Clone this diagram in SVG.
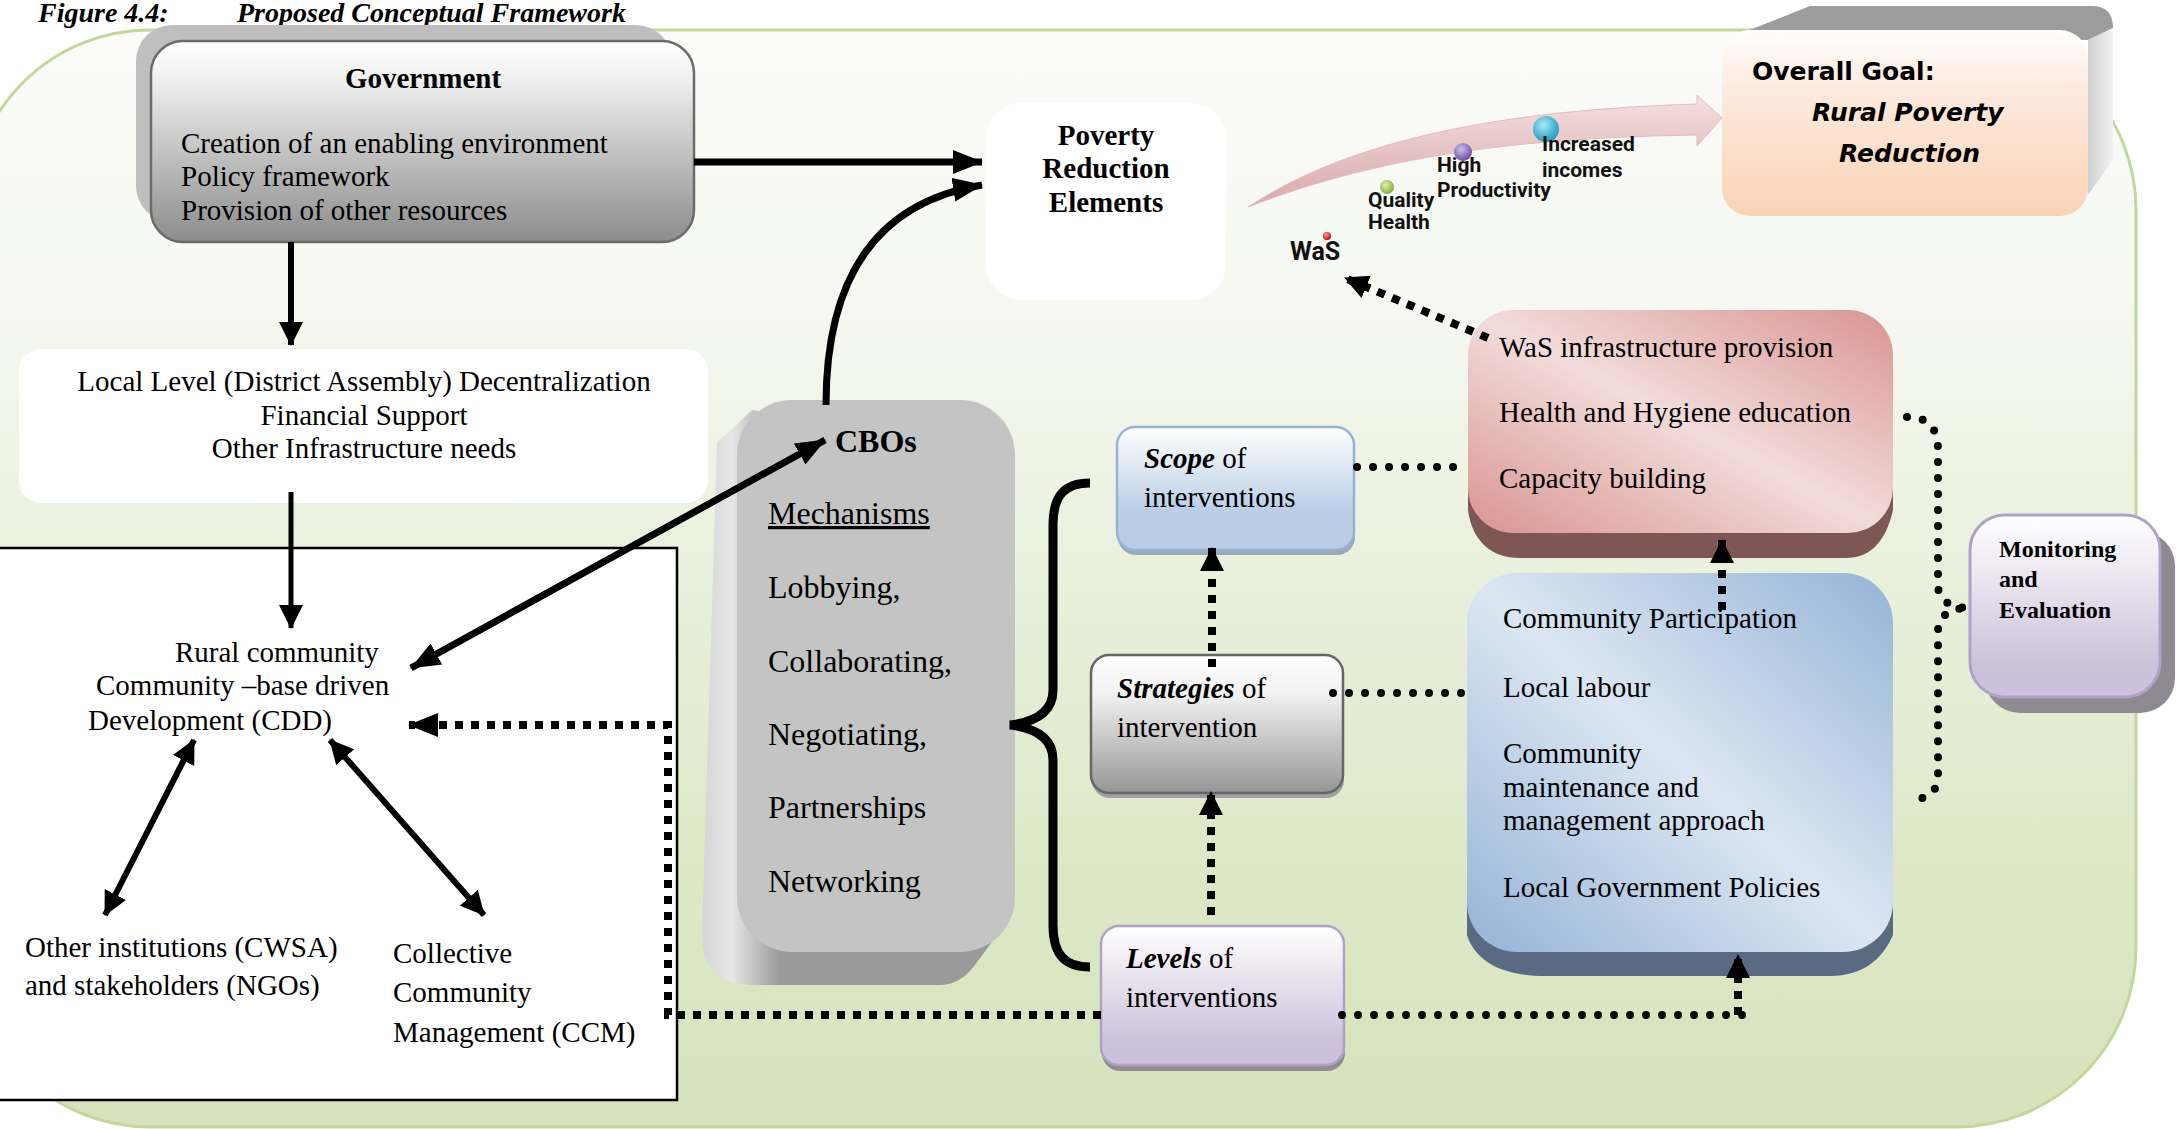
<svg xmlns="http://www.w3.org/2000/svg" width="2179" height="1129" viewBox="0 0 2179 1129">
  <style>
    .t { font-family: "Liberation Serif", "Times New Roman", serif; font-size: 29px; fill: #000; }
    .b { font-weight: bold; }
    .bi { font-weight: bold; font-style: italic; }
    .c { text-anchor: middle; }
    .cbo { font-size: 32px; }
    .me { font-size: 24px; font-weight: bold; }
    .goal { font-family: "DejaVu Sans", sans-serif; font-weight: bold; font-size: 25px; fill: #000; }
    .lab { font-family: Roboto, "Liberation Sans", sans-serif; font-weight: bold; font-size: 21px; fill: #111; }
    .solid { fill: none; stroke: #000; stroke-width: 6; }
    .w5 { stroke-width: 5; }
    .w7 { stroke-width: 7; }
    .w9 { stroke-width: 9; }
    .sq { fill: none; stroke: #000; stroke-width: 8; stroke-dasharray: 8 8; }
    .dot { fill: none; stroke: #000; stroke-width: 8; stroke-dasharray: 0 16; stroke-linecap: round; }
  </style>
  <defs>
    <linearGradient id="bg" x1="0" y1="0" x2="0" y2="1">
      <stop offset="0" stop-color="#fbfcfa"/>
      <stop offset="0.25" stop-color="#f6f8f1"/>
      <stop offset="0.5" stop-color="#e9f0dc"/>
      <stop offset="0.75" stop-color="#dee8c8"/>
      <stop offset="1" stop-color="#d6e3bc"/>
    </linearGradient>
    <linearGradient id="gGov" x1="0" y1="0" x2="0" y2="1">
      <stop offset="0" stop-color="#ffffff"/>
      <stop offset="0.15" stop-color="#f4f4f4"/>
      <stop offset="1" stop-color="#8c8c8c"/>
    </linearGradient>
    <linearGradient id="gStrat" x1="0" y1="0" x2="0" y2="1">
      <stop offset="0" stop-color="#ffffff"/>
      <stop offset="0.3" stop-color="#f0f0f0"/>
      <stop offset="1" stop-color="#959595"/>
    </linearGradient>
    <linearGradient id="gScope" x1="0" y1="0" x2="0" y2="1">
      <stop offset="0" stop-color="#ffffff"/>
      <stop offset="0.7" stop-color="#b9cde5"/>
      <stop offset="1" stop-color="#b9cde5"/>
    </linearGradient>
    <linearGradient id="gLilac" x1="0" y1="0" x2="0" y2="1">
      <stop offset="0" stop-color="#ffffff"/>
      <stop offset="0.85" stop-color="#ccc0da"/>
      <stop offset="1" stop-color="#ccc0da"/>
    </linearGradient>
    <linearGradient id="gGoal" x1="0" y1="0" x2="0" y2="1">
      <stop offset="0" stop-color="#ffffff"/>
      <stop offset="0.3" stop-color="#fdebe0"/>
      <stop offset="1" stop-color="#fad3b5"/>
    </linearGradient>
    <linearGradient id="gGoalSide" x1="0" y1="0" x2="1" y2="0">
      <stop offset="0" stop-color="#cfcfcf"/>
      <stop offset="1" stop-color="#f2f2f2"/>
    </linearGradient>
    <linearGradient id="gRed" x1="1" y1="0" x2="0" y2="1">
      <stop offset="0" stop-color="#d99492"/>
      <stop offset="0.5" stop-color="#f2dcdb"/>
      <stop offset="1" stop-color="#d99492"/>
    </linearGradient>
    <linearGradient id="gBlue" x1="1" y1="0" x2="0" y2="1">
      <stop offset="0" stop-color="#95b3d7"/>
      <stop offset="0.5" stop-color="#dce6f2"/>
      <stop offset="1" stop-color="#95b3d7"/>
    </linearGradient>
    <linearGradient id="gCboSide" gradientUnits="userSpaceOnUse" x1="700" y1="0" x2="780" y2="0">
      <stop offset="0" stop-color="#d4d4d4"/>
      <stop offset="0.4" stop-color="#e6e6e6"/>
      <stop offset="1" stop-color="#9a9a9a"/>
    </linearGradient>
    <linearGradient id="gArrow" x1="0" y1="0" x2="0" y2="1">
      <stop offset="0" stop-color="#f4e0e0"/>
      <stop offset="1" stop-color="#d9a7a9"/>
    </linearGradient>
    <radialGradient id="bRed" cx="0.4" cy="0.35" r="0.7">
      <stop offset="0" stop-color="#ff9a9a"/>
      <stop offset="1" stop-color="#c00000"/>
    </radialGradient>
    <radialGradient id="bGreen" cx="0.4" cy="0.35" r="0.7">
      <stop offset="0" stop-color="#e0f0a8"/>
      <stop offset="1" stop-color="#78a832"/>
    </radialGradient>
    <radialGradient id="bPurple" cx="0.4" cy="0.35" r="0.7">
      <stop offset="0" stop-color="#cfc0ea"/>
      <stop offset="1" stop-color="#6446a0"/>
    </radialGradient>
    <radialGradient id="bCyan" cx="0.4" cy="0.35" r="0.7">
      <stop offset="0" stop-color="#a8e8f8"/>
      <stop offset="1" stop-color="#1896bc"/>
    </radialGradient>
    <marker id="ah" viewBox="0 0 30 24" refX="29" refY="12" markerWidth="30" markerHeight="24" markerUnits="userSpaceOnUse" orient="auto-start-reverse">
      <path d="M0,0 L30,12 L0,24 Z" fill="#000"/>
    </marker>
    <marker id="ahs" viewBox="0 0 24 24" refX="23" refY="12" markerWidth="24" markerHeight="24" markerUnits="userSpaceOnUse" orient="auto-start-reverse">
      <path d="M0,0 L24,12 L0,24 Z" fill="#000"/>
    </marker>
  </defs>

  <!-- page and framework background -->
  <rect x="0" y="0" width="2179" height="1129" fill="#ffffff"/>
  <rect x="-30" y="30" width="2166" height="1097" rx="180" ry="180" fill="url(#bg)" stroke="#c3d69b" stroke-width="3"/>

  <!-- heading -->
  <text class="t bi" x="38" y="22" style="font-size:28px">Figure 4.4:</text>
  <text class="t bi" x="237" y="22" style="font-size:28px">Proposed Conceptual Framework</text>

  <g id="government">
    <rect x="136" y="25" width="536" height="197" rx="36" fill="#bfbfbf"/>
    <rect x="151" y="41" width="543" height="201" rx="32" fill="url(#gGov)" stroke="#6b6b6b" stroke-width="2.5"/>
    <text class="t b c" x="423" y="88">Government</text>
    <text class="t" x="181" y="153">Creation of an enabling environment</text>
    <text class="t" x="181" y="186">Policy framework</text>
    <text class="t" x="181" y="220">Provision of other resources</text>
  </g>

  <g id="local-level">
    <rect x="19" y="349" width="689" height="154" rx="22" fill="#ffffff"/>
    <text class="t c" x="364" y="391">Local Level (District Assembly) Decentralization</text>
    <text class="t c" x="364" y="425">Financial Support</text>
    <text class="t c" x="364" y="458">Other Infrastructure needs</text>
  </g>

  <g id="community-panel">
    <rect x="-5" y="548" width="682" height="552" fill="#ffffff" stroke="#000" stroke-width="2.5"/>
    <g id="rural-community">
      <text class="t" x="175" y="662">Rural community</text>
      <text class="t" x="96" y="695">Community –base driven</text>
      <text class="t" x="88" y="730">Development (CDD)</text>
    </g>
    <g id="other-institutions">
      <text class="t" x="25" y="957">Other institutions (CWSA)</text>
      <text class="t" x="25" y="995">and stakeholders (NGOs)</text>
    </g>
    <g id="ccm">
      <text class="t" x="393" y="963">Collective</text>
      <text class="t" x="393" y="1002">Community</text>
      <text class="t" x="393" y="1042">Management (CCM)</text>
    </g>
  </g>

  <g id="cbos">
    <path d="M752,410 L717,443 L702,933 Q702,985 752,985 L940,985 Q960,985 975,965 L1013,913 L1013,455 Z" fill="url(#gCboSide)"/>
    <rect x="737" y="400" width="278" height="552" rx="55" fill="#c4c4c4"/>
    <text class="t b cbo" x="835" y="452">CBOs</text>
    <text class="t cbo" x="768" y="524" text-decoration="underline">Mechanisms</text>
    <text class="t cbo" x="768" y="598">Lobbying,</text>
    <text class="t cbo" x="768" y="672">Collaborating,</text>
    <text class="t cbo" x="768" y="745">Negotiating,</text>
    <text class="t cbo" x="768" y="818">Partnerships</text>
    <text class="t cbo" x="768" y="892">Networking</text>
  </g>

  <g id="poverty-elements">
    <rect x="986" y="103" width="240" height="197" rx="35" fill="#ffffff"/>
    <text class="t b c" x="1106" y="145">Poverty</text>
    <text class="t b c" x="1106" y="178">Reduction</text>
    <text class="t b c" x="1106" y="212">Elements</text>
  </g>

  <g id="outcome-arrow">
    <path d="M1248,207 C1350,140 1500,110 1697,104 L1697,95 L1722,118 L1697,146 L1697,135 C1500,138 1370,160 1248,207 Z" fill="url(#gArrow)" stroke="#e2bcbd" stroke-width="1"/>
    <circle cx="1327" cy="236" r="4" fill="url(#bRed)"/>
    <text class="lab" x="1290" y="260" style="font-size:25px">WaS</text>
    <circle cx="1387" cy="187" r="7" fill="url(#bGreen)"/>
    <text class="lab" x="1368" y="207">Quality</text>
    <text class="lab" x="1368" y="229">Health</text>
    <circle cx="1463" cy="152" r="9" fill="url(#bPurple)"/>
    <text class="lab" x="1437" y="172">High</text>
    <text class="lab" x="1437" y="197">Productivity</text>
    <circle cx="1546" cy="129" r="13" fill="url(#bCyan)"/>
    <text class="lab" x="1542" y="151">Increased</text>
    <text class="lab" x="1542" y="177">incomes</text>
  </g>

  <g id="overall-goal">
    <path d="M1747,31 L1810,6 L2092,6 Q2113,6 2113,28 L2088,40 Z" fill="#9c9c9c"/>
    <path d="M2088,40 L2113,28 L2113,160 L2088,195 Z" fill="url(#gGoalSide)"/>
    <rect x="1722" y="30" width="366" height="186" rx="28" fill="url(#gGoal)"/>
    <text class="goal" x="1752" y="80">Overall Goal:</text>
    <text class="goal" x="1812" y="121" font-style="italic">Rural Poverty</text>
    <text class="goal" x="1839" y="162" font-style="italic">Reduction</text>
  </g>

  <g id="was-box">
    <path d="M1468,470 L1468,510 C1472,540 1490,558 1520,558 L1845,558 C1872,558 1886,540 1893,510 L1893,470 Z" fill="#7f5656"/>
    <rect x="1468" y="310" width="425" height="223" rx="45" fill="url(#gRed)"/>
    <text class="t" x="1499" y="357">WaS infrastructure provision</text>
    <text class="t" x="1499" y="422">Health and Hygiene education</text>
    <text class="t" x="1499" y="488">Capacity building</text>
  </g>

  <g id="community-box">
    <path d="M1467,900 L1467,935 C1475,960 1500,976 1545,976 L1830,976 C1862,976 1882,960 1893,935 L1893,900 Z" fill="#5a6a82"/>
    <rect x="1467" y="573" width="426" height="379" rx="50" fill="url(#gBlue)"/>
    <text class="t" x="1503" y="628">Community Participation</text>
    <text class="t" x="1503" y="697">Local labour</text>
    <text class="t" x="1503" y="763">Community</text>
    <text class="t" x="1503" y="797">maintenance and</text>
    <text class="t" x="1503" y="830">management approach</text>
    <text class="t" x="1503" y="897">Local Government Policies</text>
  </g>

  <g id="monitoring">
    <rect x="1985" y="531" width="190" height="182" rx="35" fill="#8d8a92"/>
    <rect x="1970" y="515" width="190" height="182" rx="35" fill="url(#gLilac)" stroke="#b2a1c7" stroke-width="3"/>
    <text class="t me" x="1999" y="557">Monitoring</text>
    <text class="t me" x="1999" y="587">and</text>
    <text class="t me" x="1999" y="618">Evaluation</text>
  </g>

  <g id="scope">
    <rect x="1118" y="432" width="237" height="123" rx="18" fill="#9ea8b4"/>
    <rect x="1117" y="427" width="237" height="123" rx="18" fill="url(#gScope)" stroke="#95b3d7" stroke-width="2.5"/>
    <text class="t" x="1144" y="468"><tspan class="bi">Scope</tspan> of</text>
    <text class="t" x="1144" y="507">interventions</text>
  </g>

  <g id="strategies">
    <rect x="1092" y="660" width="252" height="138" rx="18" fill="#a0a0a0"/>
    <rect x="1091" y="655" width="252" height="138" rx="18" fill="url(#gStrat)" stroke="#666666" stroke-width="2.5"/>
    <text class="t" x="1117" y="698"><tspan class="bi">Strategies</tspan> of</text>
    <text class="t" x="1117" y="737">intervention</text>
  </g>

  <g id="levels">
    <rect x="1102" y="932" width="243" height="139" rx="18" fill="#8e8e8e"/>
    <rect x="1101" y="926" width="243" height="139" rx="18" fill="url(#gLilac)" stroke="#b2a1c7" stroke-width="2.5"/>
    <text class="t" x="1126" y="968"><tspan class="bi">Levels</tspan> of</text>
    <text class="t" x="1126" y="1007">interventions</text>
  </g>

  <g id="connectors">
    <!-- solid arrows -->
    <path class="solid" d="M291,242 L291,345" marker-end="url(#ahs)"/>
    <path class="solid w7" d="M694,162 L982,162" marker-end="url(#ah)"/>
    <path class="solid w7" d="M826,405 C826,300 860,205 982,185" marker-end="url(#ah)"/>
    <path class="solid w5" d="M291,492 L291,628" marker-end="url(#ahs)"/>
    <path class="solid w7" d="M411,668 L825,440" marker-start="url(#ah)" marker-end="url(#ah)"/>
    <path class="solid" d="M194,740 L105,915" marker-start="url(#ahs)" marker-end="url(#ahs)"/>
    <path class="solid" d="M330,740 L484,915" marker-start="url(#ahs)" marker-end="url(#ahs)"/>
    <!-- brace grouping scope, strategies and levels -->
    <path class="solid w9" d="M1090,483 C1065,483 1053,495 1053,525 L1053,690 C1053,712 1035,722 1010,725 C1035,728 1053,738 1053,760 L1053,925 C1053,955 1065,967 1090,967"/>
    <!-- square-dot arrows -->
    <path class="sq" d="M1212,667 L1212,548" marker-end="url(#ahs)"/>
    <path class="sq" d="M1211,915 L1211,792" marker-end="url(#ahs)"/>
    <path class="sq" d="M1722,610 L1722,540" marker-end="url(#ahs)"/>
    <path class="sq" d="M1738,1015 L1738,955" marker-end="url(#ahs)"/>
    <path class="sq" d="M1488,338 L1345,278" marker-end="url(#ahs)"/>
    <path class="sq" d="M1101,1015 L668,1015 L668,725 L409,725" marker-end="url(#ah)"/>
    <!-- round-dot links -->
    <path class="dot" d="M1357,467 L1466,467"/>
    <path class="dot" d="M1333,693 L1465,693"/>
    <path class="dot" d="M1342,1015 L1752,1015"/>
    <path class="dot" d="M1907,417 C1930,417 1938,430 1938,450 L1938,585 C1938,600 1950,608 1969,608 C1950,608 1938,616 1938,632 L1938,775 C1938,792 1928,800 1907,800"/>
  </g>
</svg>
